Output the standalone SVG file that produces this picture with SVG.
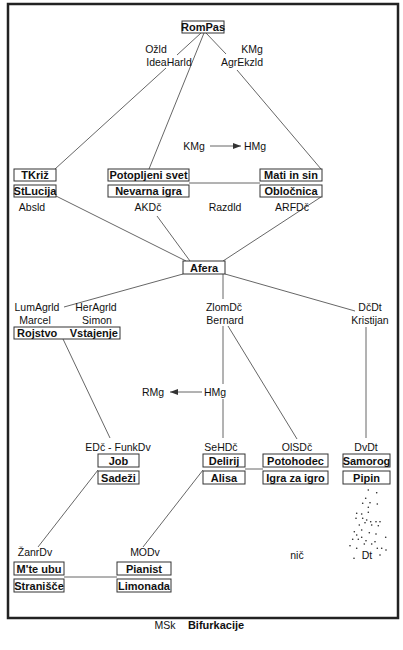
<svg xmlns="http://www.w3.org/2000/svg" width="403" height="650" viewBox="0 0 403 650">
<style>
.box{fill:#fff;stroke:#333;stroke-width:1}
.bt{font-family:"Liberation Sans",Arial,sans-serif;font-weight:bold;font-size:11px;text-anchor:middle;fill:#111}
.lb{font-family:"Liberation Sans",Arial,sans-serif;font-size:10.5px;text-anchor:middle;fill:#111}
.c{stroke:#555;stroke-width:0.9;fill:none}
.dot{fill:#222}
</style>
<defs>
<marker id="ah" viewBox="0 0 8 6" refX="8" refY="3" markerWidth="8" markerHeight="6" markerUnits="userSpaceOnUse" orient="auto">
<path d="M0,0 L8,3 L0,6 z" fill="#333"/>
</marker>
</defs>
<rect x="8" y="4" width="390" height="614" fill="#fff" stroke="#222" stroke-width="2.5"/>
<g id="connectors">
<line class="c" x1="201" y1="33" x2="177" y2="55"/>
<line class="c" x1="166" y1="68" x2="55" y2="169"/>
<line class="c" x1="204" y1="33" x2="149" y2="169"/>
<line class="c" x1="206" y1="33" x2="226" y2="54"/>
<line class="c" x1="237" y1="70" x2="321" y2="169"/>
<line class="c" x1="210" y1="146" x2="241" y2="146" marker-end="url(#ah)"/>
<line class="c" x1="189" y1="183" x2="260" y2="183"/>
<line class="c" x1="56" y1="196" x2="186" y2="261"/>
<line class="c" x1="157" y1="216" x2="190" y2="261"/>
<line class="c" x1="321" y1="197" x2="223" y2="261"/>
<line class="c" x1="183" y1="274" x2="64" y2="307"/>
<line class="c" x1="223" y1="274" x2="223" y2="299"/>
<line class="c" x1="225" y1="274" x2="355" y2="311"/>
<line class="c" x1="63" y1="339" x2="110" y2="438"/>
<line class="c" x1="223" y1="326" x2="223" y2="384"/>
<line class="c" x1="228" y1="326" x2="297" y2="439"/>
<line class="c" x1="223" y1="399" x2="223" y2="438"/>
<line class="c" x1="202" y1="392" x2="170" y2="392" marker-end="url(#ah)"/>
<line class="c" x1="366" y1="327" x2="366" y2="438"/>
<line class="c" x1="245" y1="469" x2="263" y2="469"/>
<line class="c" x1="98" y1="470" x2="38" y2="547"/>
<line class="c" x1="203" y1="470" x2="143" y2="547"/>
<line class="c" x1="64" y1="577" x2="117" y2="577"/>
</g>
<g id="RomPas"><rect class="box" x="182" y="21" width="42" height="12"/><text class="bt" x="203" y="31">RomPas</text></g>
<g id="lbl-Ozld"><text class="lb" x="156" y="53">Ožld</text><text class="lb" x="169" y="66">IdeaHarld</text></g>
<g id="lbl-KMg"><text class="lb" x="252" y="53">KMg</text><text class="lb" x="242" y="66">AgrEkzld</text></g>
<g id="TKriz"><rect class="box" x="14" y="169" width="42" height="12"/><text class="bt" x="35" y="179">TKriž</text></g>
<g id="StLucija"><rect class="box" x="14" y="185" width="42" height="12"/><text class="bt" x="35" y="195">StLucija</text></g>
<g id="lbl-Absld"><text class="lb" x="32" y="211">Absld</text></g>
<g id="PotopljeniSvet"><rect class="box" x="108" y="169" width="81" height="12"/><text class="bt" x="148.5" y="179">Potopljeni svet</text></g>
<g id="NevarnaIgra"><rect class="box" x="108" y="185" width="81" height="12"/><text class="bt" x="148.5" y="195">Nevarna igra</text></g>
<g id="lbl-AKDc"><text class="lb" x="148" y="211">AKDč</text></g>
<g id="MatiInSin"><rect class="box" x="260" y="169" width="62" height="12"/><text class="bt" x="291" y="179">Mati in sin</text></g>
<g id="Oblocnica"><rect class="box" x="260" y="185" width="62" height="12"/><text class="bt" x="291" y="195">Obločnica</text></g>
<g id="lbl-Razdld"><text class="lb" x="225" y="211">Razdld</text></g>
<g id="lbl-ARFDc"><text class="lb" x="292" y="211">ARFDč</text></g>
<g id="lbl-KMg2"><text class="lb" x="194" y="150">KMg</text></g>
<g id="lbl-HMg1"><text class="lb" x="255" y="150">HMg</text></g>
<g id="Afera"><rect class="box" x="183" y="261" width="42" height="13"/><text class="bt" x="204" y="271.5">Afera</text></g>
<g id="lbl-LumAgrld"><text class="lb" x="37" y="311">LumAgrld</text><text class="lb" x="35" y="324">Marcel</text></g>
<g id="lbl-HerAgrld"><text class="lb" x="96" y="311">HerAgrld</text><text class="lb" x="97" y="324">Simon</text></g>
<g id="RojstvoVstajenje"><rect class="box" x="14" y="327" width="106" height="12"/><text class="bt" x="17" y="337" style="text-anchor:start">Rojstvo</text><text class="bt" x="118" y="337" style="text-anchor:end">Vstajenje</text></g>
<g id="lbl-ZlomDc"><text class="lb" x="224" y="311">ZlomDč</text><text class="lb" x="225" y="324">Bernard</text></g>
<g id="lbl-DcDt"><text class="lb" x="370" y="311">DčDt</text><text class="lb" x="370" y="324">Kristijan</text></g>
<g id="lbl-HMg2"><text class="lb" x="215" y="396">HMg</text></g>
<g id="lbl-RMg"><text class="lb" x="153" y="396">RMg</text></g>
<g id="lbl-EDc"><text class="lb" x="118" y="451">EDč - FunkDv</text></g>
<g id="lbl-SeHDc"><text class="lb" x="221" y="451">SeHDč</text></g>
<g id="lbl-OlSDc"><text class="lb" x="297" y="451">OlSDč</text></g>
<g id="lbl-DvDt"><text class="lb" x="366" y="451">DvDt</text></g>
<g id="Job"><rect class="box" x="98" y="454" width="41" height="13"/><text class="bt" x="118.5" y="464.5">Job</text></g>
<g id="Sadezi"><rect class="box" x="98" y="471" width="41" height="13"/><text class="bt" x="118.5" y="481.5">Sadeži</text></g>
<g id="Delirij"><rect class="box" x="203" y="454" width="42" height="13"/><text class="bt" x="224" y="464.5">Delirij</text></g>
<g id="Alisa"><rect class="box" x="203" y="471" width="42" height="13"/><text class="bt" x="224" y="481.5">Alisa</text></g>
<g id="Potohodec"><rect class="box" x="263" y="454" width="65" height="13"/><text class="bt" x="295.5" y="464.5">Potohodec</text></g>
<g id="IgraZaIgro"><rect class="box" x="263" y="471" width="65" height="13"/><text class="bt" x="295.5" y="481.5">Igra za igro</text></g>
<g id="Samorog"><rect class="box" x="343" y="454" width="47" height="13"/><text class="bt" x="366.5" y="464.5">Samorog</text></g>
<g id="Pipin"><rect class="box" x="343" y="471" width="47" height="13"/><text class="bt" x="366.5" y="481.5">Pipin</text></g>
<g id="lbl-ZanrDv"><text class="lb" x="35" y="556">ŽanrDv</text></g>
<g id="lbl-MODv"><text class="lb" x="145" y="556">MODv</text></g>
<g id="MteUbu"><rect class="box" x="14" y="562" width="50" height="13"/><text class="bt" x="39" y="572.5">M'te ubu</text></g>
<g id="Stranisce"><rect class="box" x="14" y="579" width="50" height="13"/><text class="bt" x="39" y="589.5">Stranišče</text></g>
<g id="Pianist"><rect class="box" x="117" y="562" width="54" height="13"/><text class="bt" x="144" y="572.5">Pianist</text></g>
<g id="Limonada"><rect class="box" x="117" y="579" width="54" height="13"/><text class="bt" x="144" y="589.5">Limonada</text></g>
<g id="lbl-nic"><text class="lb" x="297" y="559">nič</text></g>
<g id="Dt">
<text class="lb" x="367" y="559">Dt</text>
<g class="dot">
<circle cx="368.3" cy="490" r="0.8"/><circle cx="376.7" cy="492.7" r="0.8"/><circle cx="365.7" cy="498.3" r="0.8"/><circle cx="362.7" cy="503.3" r="0.8"/><circle cx="370" cy="502.7" r="0.8"/><circle cx="377.3" cy="504" r="0.8"/><circle cx="368.3" cy="507.3" r="0.8"/><circle cx="356.7" cy="513.3" r="0.8"/><circle cx="361.7" cy="514" r="0.8"/><circle cx="368.3" cy="512.3" r="0.8"/><circle cx="356" cy="518.3" r="0.8"/><circle cx="362.7" cy="518.3" r="0.8"/><circle cx="366.7" cy="520" r="0.8"/><circle cx="365" cy="522.7" r="0.8"/><circle cx="370.7" cy="521.7" r="0.8"/><circle cx="376" cy="521.7" r="0.8"/><circle cx="380" cy="521.7" r="0.8"/><circle cx="359.3" cy="525" r="0.8"/><circle cx="371.7" cy="525" r="0.8"/><circle cx="378.3" cy="525.7" r="0.8"/><circle cx="354.3" cy="531.7" r="0.8"/><circle cx="361.7" cy="530" r="0.8"/><circle cx="369.3" cy="532.7" r="0.8"/><circle cx="376" cy="534" r="0.8"/><circle cx="356.7" cy="535" r="0.8"/><circle cx="352.7" cy="539.3" r="0.8"/><circle cx="358.3" cy="539.3" r="0.8"/><circle cx="361.7" cy="537.3" r="0.8"/><circle cx="385.7" cy="537.3" r="0.8"/><circle cx="366" cy="540.7" r="0.8"/><circle cx="364.3" cy="544" r="0.8"/><circle cx="371.7" cy="544" r="0.8"/><circle cx="375" cy="541.7" r="0.8"/><circle cx="350" cy="545.7" r="0.8"/><circle cx="356.7" cy="548.3" r="0.8"/><circle cx="377.3" cy="548.3" r="0.8"/><circle cx="381.7" cy="548.3" r="0.8"/><circle cx="386" cy="550" r="0.8"/><circle cx="354" cy="558.3" r="0.8"/><circle cx="380" cy="555" r="0.8"/>
</g>
</g>
<g id="caption"><text class="lb" x="165" y="629">MSk</text><text class="bt" x="216" y="629">Bifurkacije</text></g>
</svg>
